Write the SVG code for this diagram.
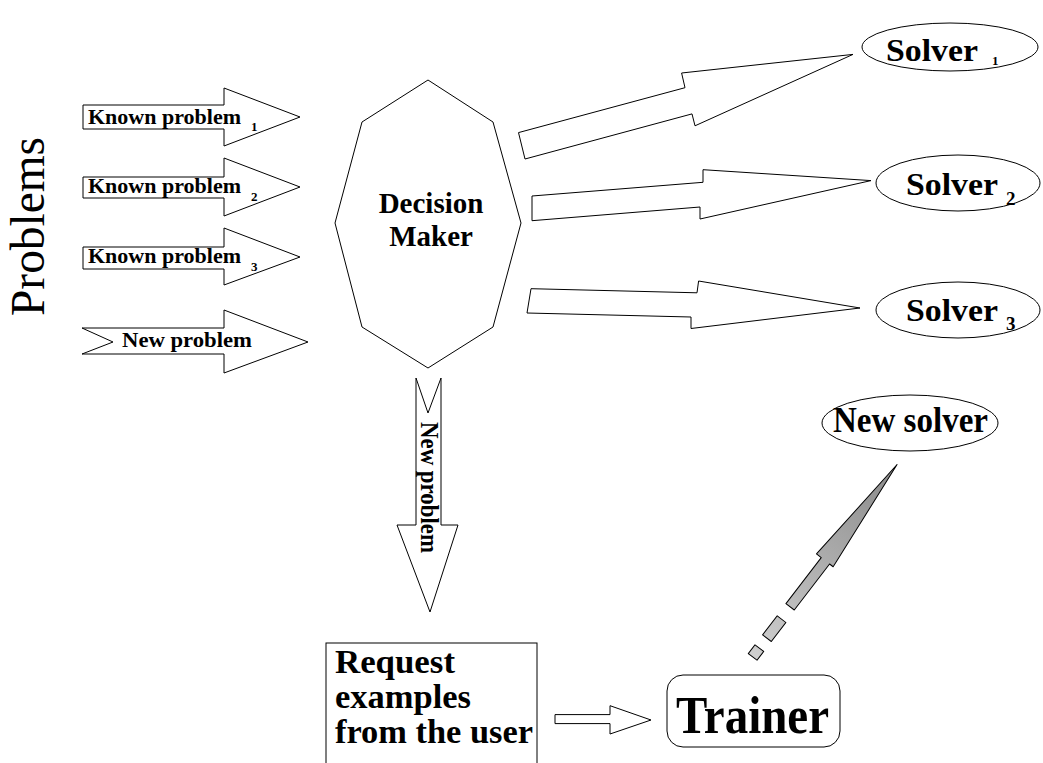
<svg xmlns="http://www.w3.org/2000/svg" width="1043" height="763" viewBox="0 0 1043 763">
<style>
.s{fill:#fff;stroke:#000;stroke-width:1}
.b{font-family:"Liberation Serif","Times New Roman",serif;font-weight:bold;fill:#000}
.r{font-family:"Liberation Serif","Times New Roman",serif;fill:#000}
.g{stroke:#000;stroke-width:1;stroke-linejoin:round}
</style>
<defs>
<linearGradient id="gr" gradientUnits="userSpaceOnUse" x1="-6" y1="0" x2="235" y2="0">
<stop offset="0" stop-color="#cfcfcf"/>
<stop offset="1" stop-color="#8a8a8a"/>
</linearGradient>
</defs>
<rect width="1043" height="763" fill="#fff"/>

<g id="problems-label">
<text class="r" font-size="48" textLength="179" lengthAdjust="spacingAndGlyphs" transform="translate(44,316) rotate(-90)">Problems</text>
</g>

<g id="connectors">
<g id="known1">
<polygon class="s" points="83,105 224,105 224,88 300,117 224,146 224,129 83,129"/>
<text class="b" x="88" y="124" font-size="21" textLength="153" lengthAdjust="spacingAndGlyphs">Known problem</text>
<text class="b" x="251" y="131" font-size="13">1</text>
</g>
<g id="known2">
<polygon class="s" points="83,177 224,177 224,158 300,187 224,216 224,198 83,198"/>
<text class="b" x="88" y="193" font-size="21" textLength="153" lengthAdjust="spacingAndGlyphs">Known problem</text>
<text class="b" x="251" y="201" font-size="13">2</text>
</g>
<g id="known3">
<polygon class="s" points="83,247 224,247 224,228 300,257 224,285 224,269 83,269"/>
<text class="b" x="88" y="263" font-size="21" textLength="153" lengthAdjust="spacingAndGlyphs">Known problem</text>
<text class="b" x="251" y="271" font-size="13">3</text>
</g>
<g id="newproblem-in">
<polygon class="s" points="82,328 224,328 224,310 308,342 224,373 224,354 82,354 113,342"/>
<text class="b" x="122" y="347" font-size="20" textLength="130" lengthAdjust="spacingAndGlyphs">New problem</text>
</g>
<polygon id="to-solver1" class="s" points="525,159 518.5,132.6 685,87.7 681.6,73 853,54.4 695,125.8 692,113.9"/>
<polygon id="to-solver2" class="s" points="532,196 532,220.7 700,207 700,219 871,180.6 703,169.7 703,182.3"/>
<polygon id="to-solver3" class="s" points="531,288.7 527,313 691,317 691,328.5 860,308 698.6,281 697,292.8"/>
<g id="newproblem-down">
<polygon class="s" points="416,378 428,413 441,378 441,525 458,525 430,612 397,525 416,525"/>
<text class="b" font-size="26" textLength="131" lengthAdjust="spacingAndGlyphs" transform="translate(421,422) rotate(90)">New problem</text>
</g>
<polygon id="to-trainer" class="s" points="555,714.6 610,714.6 610,705.7 651,720 610,734 610,723.6 555,723.6"/>
<g id="to-newsolver" transform="translate(756,652.5) rotate(-52.5)" fill="url(#gr)">
<rect class="g" x="-5.5" y="-5.5" width="11" height="11"/>
<rect class="g" x="18" y="-5.5" width="24" height="11"/>
<polygon class="g" points="57,-6 115,-6 115,-12 235,-2.5 115,9 115,4.5 57,4.5"/>
</g>
</g>

<g id="decision-maker">
<polygon class="s" points="428,80 493,122 521,223 493,327 428,368 362,327 335,223 362,122"/>
<text class="b" x="431" y="213" font-size="29" text-anchor="middle">Decision</text>
<text class="b" x="431" y="246" font-size="29" text-anchor="middle">Maker</text>
</g>

<g id="solver1">
<ellipse class="s" cx="950" cy="47" rx="88" ry="24"/>
<text class="b" x="886" y="61" font-size="32" textLength="92" lengthAdjust="spacingAndGlyphs">Solver</text>
<text class="b" x="992" y="65" font-size="13">1</text>
</g>
<g id="solver2">
<ellipse class="s" cx="958" cy="183" rx="82" ry="28"/>
<text class="b" x="906" y="195" font-size="32" textLength="92" lengthAdjust="spacingAndGlyphs">Solver</text>
<text class="b" x="1006" y="205" font-size="19">2</text>
</g>
<g id="solver3">
<ellipse class="s" cx="958" cy="310" rx="82" ry="28"/>
<text class="b" x="906" y="321" font-size="32" textLength="92" lengthAdjust="spacingAndGlyphs">Solver</text>
<text class="b" x="1006" y="330" font-size="19">3</text>
</g>

<g id="new-solver">
<ellipse class="s" cx="910" cy="423" rx="88" ry="28"/>
<text class="b" x="833" y="432" font-size="36" textLength="155" lengthAdjust="spacingAndGlyphs">New solver</text>
</g>

<g id="request">
<rect class="s" x="326" y="643" width="211" height="130"/>
<text class="b" x="335" y="673" font-size="33" textLength="120" lengthAdjust="spacingAndGlyphs">Request</text>
<text class="b" x="335" y="708" font-size="33" textLength="136" lengthAdjust="spacingAndGlyphs">examples</text>
<text class="b" x="335" y="743" font-size="33" textLength="198" lengthAdjust="spacingAndGlyphs">from the user</text>
</g>

<g id="trainer">
<rect class="s" x="667" y="675" width="173" height="72" rx="16"/>
<text class="b" x="676" y="733" font-size="52" textLength="153" lengthAdjust="spacingAndGlyphs">Trainer</text>
</g>
</svg>
